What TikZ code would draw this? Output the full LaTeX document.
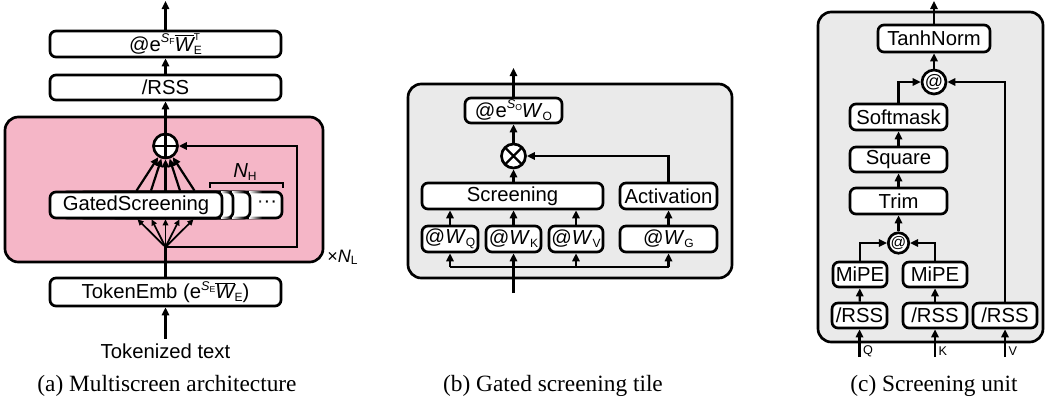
\documentclass[tikz,border=0pt]{standalone}
\usepackage{fontspec}
\setmainfont{Liberation Sans}
\newfontfamily\capfont{Liberation Serif}
\usetikzlibrary{arrows.meta,fadings}

\definecolor{pinkbg}{RGB}{245,182,199}
\definecolor{graybg}{RGB}{234,234,234}

% small lowered index and raised exponent used in the box labels
\newcommand\lowsub[1]{\raisebox{-0.3ex}{\fontsize{9}{9}\selectfont #1}}
\newcommand\expo[2]{\raisebox{0.8ex}{\fontsize{9.5}{9.5}\selectfont\itshape #1\upshape\raisebox{-0.3ex}{\fontsize{6.5}{6.5}\selectfont #2}}}
\newcommand\Wbar{$\overline{\mbox{\itshape W}}$}
\newcommand\WbarET{\Wbar\rlap{\raisebox{1.05ex}{\fontsize{7.5}{7.5}\selectfont T}}\lowsub{E}}

\tikzfading[name=fadeeast, left color=transparent!0, right color=transparent!100]

\begin{document}
\begin{tikzpicture}[x=0.75pt, y=-0.75pt,
  font=\fontsize{15.2}{17}\selectfont,
  >={Triangle[length=6pt,width=5.5pt]},
  line/.style={line width=1.65pt},
  arr/.style={line width=1.65pt, ->},
  smallarr/.style={line width=1.3pt, -{Triangle[length=4.5pt,width=4.2pt]}},
  box/.style={draw, line width=2pt, rounded corners=4.5pt, fill=white, inner sep=0pt},
  wd/.style={minimum width=#1*0.75pt},
  ht/.style={minimum height=#1*0.75pt},
  op/.style={draw, circle, line width=2pt, fill=white, inner sep=0pt, minimum size=#1*1.5pt},
  plusop/.style={op=#1, path picture={\draw[line width=1.7pt]
      (path picture bounding box.north) -- (path picture bounding box.south)
      (path picture bounding box.west) -- (path picture bounding box.east);}},
  timesop/.style={op=#1, path picture={\draw[line width=1.7pt]
      (path picture bounding box.north west) -- (path picture bounding box.south east)
      (path picture bounding box.north east) -- (path picture bounding box.south west);}},
  region/.style={draw, line width=2pt, rounded corners=10pt, inner sep=0pt},
  captext/.style={font=\capfont\fontsize{17.5}{20}\selectfont, anchor=base},
  idx/.style={font=\fontsize{9.5}{9.5}\selectfont, anchor=west, inner sep=1pt},
]
\useasboundingbox (0,0) rectangle (1045,404);

% ---------------- (a) Multiscreen architecture ----------------
\node[region, fill=pinkbg, wd=318, ht=145] (blk) at (164,189.5) {};
\node[box, wd=231, ht=26] (aout) at (165.5,44) {@e\expo{S}{F}\WbarET};
\node[box, wd=231, ht=25] (arss) at (165.5,87.5) {/RSS};
\node[plusop=12] (plus) at (165.5,146) {};

% stacked copies of the gated screening tile
\node[box, wd=172, ht=26] (c3) at (196,205) {};
\node (dots) at (267,204) {···};
\fill[white, path fading=fadeeast] (249,190.8) rectangle (262,219.2);
\node[box, wd=172, ht=26] (c2) at (164,205) {};
\fill[white, path fading=fadeeast] (232,190.8) rectangle (244,219.2);
\node[box, wd=172, ht=26] (c1) at (147,205) {};
\fill[white, path fading=fadeeast] (221,190.8) rectangle (230,219.2);
\node[box, wd=172, ht=26] (gs) at (136,205) {GatedScreening};

\node (nh) at (245,172) {\textit{N}\lowsub{H}};
\draw[line] (210,187.5) -- (210,183) -- (283,183) -- (283,187.5);

\node[box, wd=231, ht=28] (emb) at (165.5,292) {TokenEmb (e\expo{S}{E}\Wbar\lowsub{E})};
\node[anchor=base] (tok) at (165.5,358) {Tokenized text};
\node[anchor=base west, inner sep=0pt, font=\fontsize{13.5}{14}\selectfont] (nl) at (327,262) {×\textit{N}\lowsub{L}};

\coordinate (fan) at (165.5,247);
\coordinate (fb) at (297,247);
\coordinate (atop) at (165.5,1);

\draw[arr] (tok.north) -- (emb);
\draw[line] (emb.north) -- (fan);
\draw[arr] (fan) -- (fb) |- (plus);
\foreach \d in {-28,-14,0,14,28}
  \draw[smallarr] (fan) -- ([xshift=\d*0.75pt]fan |- gs.south);
\foreach \d in {-29,-14.5,0,14.5,29}
  \draw[arr] ([xshift=\d*0.75pt]plus |- gs.north) -- (plus);
\draw[arr] (plus) -- (arss);
\draw[arr] (arss) -- (aout);
\draw[arr] (aout) -- (atop);

\node[captext] (capa) at (167,391) {(a) Multiscreen architecture};

% ---------------- (b) Gated screening tile ----------------
\node[region, fill=graybg, wd=324, ht=194] (tile) at (570,181) {};
\node[box, wd=97, ht=25] (bout) at (513.5,110.5) {@e\expo{S}{O}\textit{W}\lowsub{O}};
\node[timesop=12] (mul) at (513.5,156) {};
\node[box, wd=181, ht=26] (scr) at (512.5,196) {Screening};
\node[box, wd=97, ht=26] (act) at (668.5,196) {Activation};
\node[box, wd=56, ht=26] (wq) at (450,239) {@\textit{W}\lowsub{Q}};
\node[box, wd=55, ht=26] (wk) at (513.5,239) {@\textit{W}\lowsub{K}};
\node[box, wd=54, ht=26] (wv) at (576,239) {@\textit{W}\lowsub{V}};
\node[box, wd=97, ht=26] (wg) at (668.5,239) {@\textit{W}\lowsub{G}};

\coordinate (bin) at (513.5,293);
\coordinate (bbus) at (513.5,267);
\coordinate (btop) at (513.5,68);

\draw[line] (wq |- bbus) -- (wg |- bbus);
\draw[arr] (bin) -- (wk);
\draw[arr] (wq |- bbus) -- (wq);
\draw[arr] (wv |- bbus) -- (wv);
\draw[arr] (wg |- bbus) -- (wg);
\draw[arr] (wq) -- (wq |- scr.south);
\draw[arr] (wk) -- (wk |- scr.south);
\draw[arr] (wv) -- (wv |- scr.south);
\draw[arr] (wg) -- (act);
\draw[arr] (scr.north -| mul) -- (mul);
\draw[arr] (act) |- (mul);
\draw[arr] (mul) -- (bout);
\draw[arr] (bout) -- (btop);

\node[captext] (capb) at (553,391) {(b) Gated screening tile};

% ---------------- (c) Screening unit ----------------
\node[region, fill=graybg, wd=225, ht=330] (unit) at (930.5,177) {};
\node[box, wd=112, ht=27] (tanh) at (934,38.5) {TanhNorm};
\node[op=11.5, font=\fontsize{13.5}{13.5}\selectfont] (mm) at (934,82) {@};
\node[box, wd=97, ht=26] (soft) at (898.5,117) {Softmask};
\node[box, wd=97, ht=25] (sq) at (898.5,159.5) {Square};
\node[box, wd=97, ht=26] (trim) at (898.5,201) {Trim};
\node[op=9.5, font=\fontsize{11.5}{11.5}\selectfont] (qk) at (898.5,243) {@};
\node[box, wd=54, ht=25] (mq) at (860,274.5) {MiPE};
\node[box, wd=64, ht=25] (mk) at (935,274.5) {MiPE};
\node[box, wd=55, ht=25] (rq) at (859.5,315.5) {/RSS};
\node[box, wd=64, ht=25] (rk) at (935,315.5) {/RSS};
\node[box, wd=64, ht=25] (rv) at (1005,315.5) {/RSS};

\coordinate (inq) at (859.5,357);
\coordinate (ink) at (935,357);
\coordinate (inv) at (1005,357);
\coordinate (ctop) at (934,1);

\draw[arr] (inq) -- (rq);
\draw[arr] (ink) -- (rk);
\draw[arr] (inv) -- (rv);
\node[idx] (lq) at (861.5,351) {Q};
\node[idx] (lk) at (937,351) {K};
\node[idx] (lv) at (1007,351) {V};

\draw[arr] (rq) -- (mq);
\draw[arr] (rk) -- (mk);
\draw[arr] (mq) |- (qk);
\draw[arr] (mk) |- (qk);
\draw[arr] (qk) -- (trim);
\draw[arr] (trim) -- (sq);
\draw[arr] (sq) -- (soft);
\draw[arr] (soft) |- (mm);
\draw[arr] (rv) |- (mm);
\draw[arr] (mm) -- (tanh);
\draw[arr] (tanh) -- (ctop);

\node[captext] (capc) at (934,391) {(c) Screening unit};
\end{tikzpicture}
\end{document}
